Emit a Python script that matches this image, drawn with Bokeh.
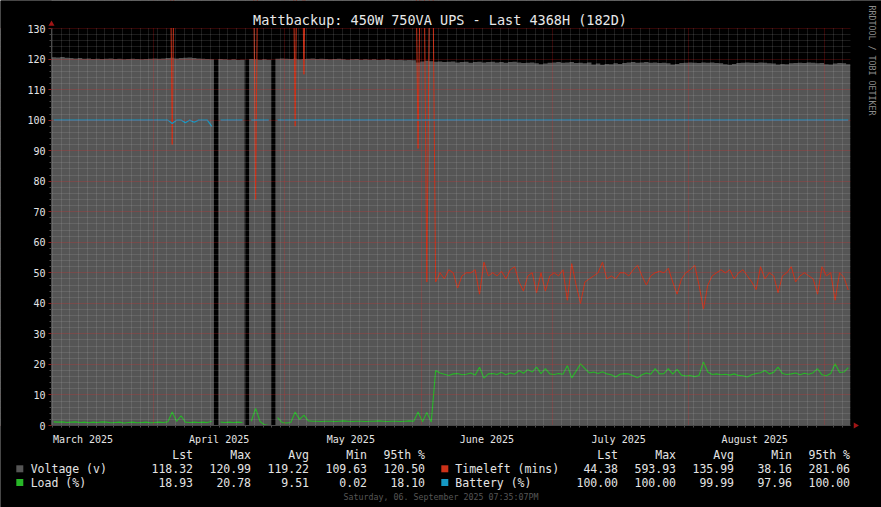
import math
from datetime import datetime
from bokeh.plotting import figure
from bokeh.models import Range1d, FixedTicker, BoxAnnotation
from bokeh.core.properties import value
from bokeh.embed import file_html
from bokeh.resources import INLINE

# ---------------- data ----------------
TITLE = "Mattbackup: 450W 750VA UPS - Last 4368H (182D)"
FOOTER = "Saturday, 06. September 2025 07:35:07PM"
SIDE_TEXT = "RRDTOOL / TOBI OETIKER"
START = datetime(2025, 3, 8, 19, 35, 7)
N_DAYS = 182
Y_MAX = 130

MONTH_LABELS = ["March 2025", "April 2025", "May 2025", "June 2025", "July 2025", "August 2025"]
MONTH_FIRSTS = [datetime(2025, m, 1) for m in (3, 4, 5, 6, 7, 8, 9)]

# one value per day of the window (None = no data)
voltage = [
    120.6, 120.5, 120.7, 120.4, 120.3, 120.2, 120.3, 120.1, 120.2, 120.0,
    120.1, 120.0, 120.1, 120.2, 120.0, 120.1, 119.9, 120.0, 120.1, 120.0,
    119.9, 120.0, 120.1, 120.2, 120.1, 120.2, 120.3, 120.4, 120.2, 120.3,
    120.4, 120.5, 120.3, 120.2, 120.1, 120.0, 119.9, None, 120.0, 119.9,
    119.8, 119.9, 119.7, 119.8, None, 120.0, 119.9, 119.8, 119.9, 119.8,
    None, 120.1, 120.2, 120.1, 120.0, 120.1, 119.9, 120.0, 120.1, 120.2,
    120.0, 120.1, 120.0, 119.9, 120.0, 120.1, 119.9, 119.8, 119.9, 120.0,
    119.8, 119.9, 119.8, 119.9, 119.7, 119.8, 119.9, 119.8, 119.7, 119.8,
    119.6, 119.7, 119.6, 118.9, 119.2, 119.4, 119.3, 119.1, 119.2, 119.0,
    119.1, 119.2, 118.9, 119.0, 119.1, 118.8, 119.0, 119.1, 118.9, 119.0,
    119.1, 118.9, 119.0, 118.8, 119.0, 119.1, 118.9, 118.7, 118.8, 118.9,
    118.6, 118.3, 118.5, 118.8, 118.9, 119.0, 118.8, 118.9, 119.0, 118.7,
    118.8, 118.6, 118.9, 118.2, 118.5, 118.1, 118.4, 118.3, 118.6, 118.4,
    118.7, 118.9, 119.0, 118.8, 118.9, 119.0, 118.8, 118.9, 118.7, 118.8,
    118.6, 118.2, 118.4, 118.7, 118.8, 118.9, 118.8, 118.7, 118.9, 118.8,
    118.9, 118.7, 118.6, 118.3, 118.1, 118.4, 118.7, 118.8, 118.9, 118.8,
    118.7, 118.9, 118.8, 118.6, 118.5, 118.2, 118.4, 118.3, 118.6, 118.7,
    118.8, 118.7, 118.9, 118.8, 118.6, 118.7, 118.3, 118.2, 118.5, 118.7,
    118.6, 118.32,
]

timeleft = [
    593.93, 262, 255, 248, 251, 246, 249, 244, 250, 247,
    245, 252, 248, 243, 246, 250, 244, 241, 247, 243,
    245, 240, 238, 244, 242, 239, 241, 92, 236, 239,
    240, 237, 235, 238, 236, 233, 231, None, 234, 230,
    232, 229, 233, 231, None, 236, 74, 238, 245, 250,
    None, 236, 232, 234, 233, 98, 231, 115, 229, 230,
    228, 231, 227, 229, 226, 228, 225, 227, 224, 226,
    223, 225, 222, 224, 221, 223, 220, 222, 219, 221,
    218, 220, 217, 90.7, 214, 47, 210, 47, 50, 48,
    51, 50, 45, 49, 50, 50, 51, 43, 53.5, 49,
    50, 49, 50.5, 48, 51, 52, 47, 44, 49, 50,
    43.5, 50, 44, 49, 50, 49, 51, 41, 53, 46,
    40, 47, 48, 49, 50, 53.5, 48, 49, 48, 50,
    50, 49, 51, 52.5, 49, 46, 49, 50, 50.5, 50,
    51.5, 47, 43, 48, 50, 51, 52.5, 46, 38.16, 46,
    49, 50, 51, 50, 51, 48, 50, 51, 49, 47,
    44.5, 52, 48, 50, 49, 43.5, 49, 50, 52, 47,
    49, 50, 49, 48, 43, 52, 49, 50, 41, 50,
    48.5, 44.38,
]

load = [
    1.2, 1.1, 1.2, 1.0, 1.1, 1.2, 1.0, 1.1, 0.9, 1.1,
    1.0, 1.2, 1.1, 0.9, 1.0, 1.1, 0.8, 1.0, 1.1, 0.9,
    1.0, 1.1, 0.9, 1.0, 1.1, 1.0, 1.2, 4.4, 1.3, 3.2,
    1.1, 1.0, 1.1, 1.0, 1.1, 1.0, 1.4, None, 1.1, 1.0,
    1.1, 1.0, 1.1, 1.0, None, 1.4, 5.6, 1.3, 0.2, 0.02,
    None, 2.6, 1.0, 0.8, 1.0, 4.4, 2.0, 3.4, 1.5, 1.4,
    1.4, 1.3, 1.4, 1.4, 1.3, 1.4, 1.5, 1.4, 1.3, 1.4,
    1.4, 1.3, 1.4, 1.4, 1.5, 1.4, 1.3, 1.4, 1.4, 1.3,
    1.4, 1.5, 1.4, 4.4, 1.2, 4.3, 1.1, 18.0, 17.2, 16.8,
    16.4, 16.9, 17.0, 16.6, 16.8, 17.2, 16.5, 19.1, 15.5, 16.9,
    17.0, 16.7, 17.4, 16.6, 17.2, 16.8, 18.0, 17.1, 18.3, 17.5,
    19.1, 17.0, 18.6, 16.9, 16.7, 17.0, 16.8, 19.6, 15.6, 17.8,
    20.2, 18.6, 17.2, 17.5, 17.0, 17.6, 16.9, 16.6, 15.9, 16.8,
    17.0, 16.9, 16.3, 15.6, 16.6, 17.2, 16.8, 18.6, 16.9, 17.0,
    18.6, 16.8, 18.4, 16.5, 16.2, 16.4, 16.0, 16.4, 20.78, 17.5,
    16.7, 16.9, 16.6, 16.8, 16.5, 16.9, 16.4, 16.3, 15.9, 16.6,
    17.0, 17.3, 18.0, 16.9, 17.4, 19.1, 17.0, 16.7, 16.9, 17.2,
    16.6, 17.1, 16.8, 17.3, 18.6, 16.6, 16.3, 17.0, 20.2, 17.4,
    17.5, 18.93,
]

battery = [
    100.0, 100.0, 100.0, 100.0, 100.0, 100.0, 100.0, 100.0, 100.0, 100.0,
    100.0, 100.0, 100.0, 100.0, 100.0, 100.0, 100.0, 100.0, 100.0, 100.0,
    100.0, 100.0, 100.0, 100.0, 100.0, 100.0, 100.0, 98.9, 100.0, 100.0,
    99.1, 100.0, 99.3, 100.0, 100.0, 100.0, 97.96, None, 100.0, 100.0,
    100.0, 100.0, 100.0, 100.0, None, 100.0, 100.0, 100.0, 100.0, 100.0,
    None, 100.0, 100.0, 100.0, 100.0, 100.0, 100.0, 100.0, 100.0, 100.0,
    100.0, 100.0, 100.0, 100.0, 100.0, 100.0, 100.0, 100.0, 100.0, 100.0,
    100.0, 100.0, 100.0, 100.0, 100.0, 100.0, 100.0, 100.0, 100.0, 100.0,
    100.0, 100.0, 100.0, 100.0, 100.0, 100.0, 100.0, 100.0, 100.0, 100.0,
    100.0, 100.0, 100.0, 100.0, 100.0, 100.0, 100.0, 100.0, 100.0, 100.0,
    100.0, 100.0, 100.0, 100.0, 100.0, 100.0, 100.0, 100.0, 100.0, 100.0,
    100.0, 100.0, 100.0, 100.0, 100.0, 100.0, 100.0, 100.0, 100.0, 100.0,
    100.0, 100.0, 100.0, 100.0, 100.0, 100.0, 100.0, 100.0, 100.0, 100.0,
    100.0, 100.0, 100.0, 100.0, 100.0, 100.0, 100.0, 100.0, 100.0, 100.0,
    100.0, 100.0, 100.0, 100.0, 100.0, 100.0, 100.0, 100.0, 100.0, 100.0,
    100.0, 100.0, 100.0, 100.0, 100.0, 100.0, 100.0, 100.0, 100.0, 100.0,
    100.0, 100.0, 100.0, 100.0, 100.0, 100.0, 100.0, 100.0, 100.0, 100.0,
    100.0, 100.0, 100.0, 100.0, 100.0, 100.0, 100.0, 100.0, 100.0, 100.0,
    100.0, 100.0,
]

STAT_HEADERS = ["Lst", "Max", "Avg", "Min", "95th %"]
SERIES_LEFT = ["Voltage (v)", "Load (%)"]
SERIES_RIGHT = ["Timeleft (mins)", "Battery (%)"]
STATS = {
    "Voltage (v)": ["118.32", "120.99", "119.22", "109.63", "120.50"],
    "Load (%)": ["18.93", "20.78", "9.51", "0.02", "18.10"],
    "Timeleft (mins)": ["44.38", "593.93", "135.99", "38.16", "281.06"],
    "Battery (%)": ["100.00", "100.00", "99.99", "97.96", "100.00"],
}

for s in (voltage, timeleft, load, battery):
    assert len(s) == N_DAYS, len(s)

# ---------------- style / layout ----------------
FONT = "DejaVu Sans Mono"
TXT = "#e4e4e4"
C_VOLT = "#555555"
C_LOAD = "#27b627"
C_TIME = "#cc3118"
C_BATT = "#1598c3"
C_ARROW = "#a01515"
COLORS = {"Voltage (v)": C_VOLT, "Load (%)": C_LOAD,
          "Timeleft (mins)": C_TIME, "Battery (%)": C_BATT}

W, H = 881, 507
FL, FR, FT, FB = 51, 850, 28, 425          # data area in canvas pixels
KX = N_DAYS / (FR - FL)
KY = Y_MAX / (FB - FT)


def days_from_start(dt):
    return round((dt - START).total_seconds() / 86400.0, 4)


month_starts = [days_from_start(d) for d in MONTH_FIRSTS]
label_pos = [round(m + 15.0, 4) for m in month_starts[:-1]]
first_midnight = days_from_start(datetime(2025, 3, 9))
two_day = [round(first_midnight + 2 * k, 4) for k in range(0, 92)]
two_day = [t for t in two_day if 0 <= t <= N_DAYS and all(abs(t - m) > 0.01 for m in month_starts)]

p = figure(width=W, height=H,
           x_range=Range1d(-FL * KX, (W - FL) * KX),
           y_range=Range1d(-(H - FB) * KY, Y_MAX + FT * KY),
           output_backend="svg", toolbar_location=None, title=None,
           min_border=0, min_border_left=0, min_border_right=0, min_border_top=0, min_border_bottom=0,
           background_fill_color="#000000", border_fill_color="#000000", outline_line_color=None)
# canvas-pixel coordinates for texts and decorations
p.extra_x_ranges = {"px": Range1d(0, W)}
p.extra_y_ranges = {"py": Range1d(H, 0)}

# voltage area, split where data is missing
segments, seg = [], []
for i, v in enumerate(voltage):
    if v is None:
        if seg:
            segments.append(seg)
        seg = []
    else:
        seg.append(i)
if seg:
    segments.append(seg)
for sg in segments:
    xs = [float(i) for i in sg] + [float(sg[-1] + 1)]
    ys = [voltage[i] for i in sg] + [voltage[sg[-1]]]
    p.varea_step(x=xs, y1=[0.0] * len(xs), y2=ys, step_mode="after",
                 fill_color=C_VOLT, level="underlay")

xc = [i + 0.5 for i in range(N_DAYS)]


def nanify(vals):
    return [float("nan") if v is None else v for v in vals]


p.line(xc, nanify(timeleft), line_color=C_TIME, line_width=1)
p.line(xc, nanify(battery), line_color=C_BATT, line_width=1.2)
p.line(xc, nanify(load), line_color=C_LOAD, line_width=1.1)

# axes & grid
y_major = list(range(0, Y_MAX + 1, 10))
y_minor = [v for v in range(0, Y_MAX + 1, 2) if v % 10]
yt = FixedTicker(ticks=y_major, minor_ticks=y_minor)
p.yaxis.ticker = yt
p.ygrid.ticker = yt
p.xaxis.ticker = FixedTicker(ticks=label_pos, minor_ticks=two_day)
p.xgrid.ticker = FixedTicker(ticks=month_starts, minor_ticks=two_day)
p.xaxis.major_label_overrides = {t: lab for t, lab in zip(label_pos, MONTH_LABELS)}
p.xaxis.fixed_location = 0
p.yaxis.fixed_location = 0
p.xaxis.bounds = (0, N_DAYS)
p.yaxis.bounds = (0, Y_MAX)

for ax in (p.xaxis[0], p.yaxis[0]):
    ax.major_label_text_font = FONT
    ax.major_label_text_font_size = "10px"
    ax.major_label_text_color = TXT
    ax.axis_line_color = "#4a4a4a"
    ax.minor_tick_line_color = "#4a4a4a"
    ax.minor_tick_out = 2
    ax.minor_tick_in = 0
    ax.major_tick_in = 0
    ax.level = "overlay"
p.yaxis.major_tick_out = 3
p.yaxis.major_tick_line_color = "#8a2020"
p.yaxis.major_label_standoff = 3
p.xaxis.major_tick_out = 0
p.xaxis.major_label_standoff = 6

for g in (p.xgrid[0], p.ygrid[0]):
    g.grid_line_color = "#ff2020"
    g.grid_line_alpha = 0.4
    g.grid_line_dash = "1 1"
    g.minor_grid_line_color = "#c8c8c8"
    g.minor_grid_line_alpha = 0.28
    g.minor_grid_line_dash = "1 1"
    g.level = "glyph"

# black surround: keeps grid and off-scale values inside the data area
for kw in (dict(right=0), dict(left=N_DAYS), dict(top=-0.5 * KY), dict(bottom=Y_MAX + 0.5 * KY)):
    p.add_layout(BoxAnnotation(fill_color="#000000", fill_alpha=1.0, line_color=None,
                               level="annotation", **kw))

PX = dict(x_range_name="px", y_range_name="py", level="overlay")

# axis arrows
p.scatter(x=[51], y=[23.5], marker="triangle", size=6, fill_color=C_ARROW, line_color=None, **PX)
p.scatter(x=[855], y=[425], marker="triangle", angle=-math.pi / 2, size=6,
          fill_color=C_ARROW, line_color=None, **PX)

# legend / statistics strip
COL_LEFT = [192.5, 250.5, 308.5, 366.5, 424.5]
COL_RIGHT = [617.5, 675.5, 733.5, 791.5, 849.5]
SWATCH_X = {"left": 19.3, "right": 444.3}
NAME_X = {"left": 30.2, "right": 454.8}
HEAD_Y, ROW_Y, FOOT_Y = 454.0, [468.3, 482.0], 496.7

tx, ty, tt = [], [], []
nx, ny, nt, sx, sy, sc = [], [], [], [], [], []
for cols, names, side in ((COL_LEFT, SERIES_LEFT, "left"), (COL_RIGHT, SERIES_RIGHT, "right")):
    for cx, h in zip(cols, STAT_HEADERS):
        tx.append(cx); ty.append(HEAD_Y); tt.append(h)
    for ry, n in zip(ROW_Y, names):
        for cx, val in zip(cols, STATS[n]):
            tx.append(cx); ty.append(ry); tt.append(val)
        nx.append(NAME_X[side]); ny.append(ry); nt.append(n)
        sx.append(SWATCH_X[side]); sy.append(ry); sc.append(COLORS[n])

p.text(x=tx, y=ty, text=tt, text_align="right", text_baseline="middle",
       text_font=value(FONT), text_font_size="11.5px", text_color=TXT, **PX)
p.text(x=nx, y=ny, text=nt, text_align="left", text_baseline="middle",
       text_font=value(FONT), text_font_size="11.5px", text_color=TXT, **PX)
p.rect(x=sx, y=sy, width=7, height=7, fill_color=sc, line_color=None, **PX)

p.text(x=[439.5], y=[19.5], text=[TITLE], text_align="center", text_baseline="middle",
       text_font=value(FONT), text_font_size="13.5px", text_color="#e8e8e8", **PX)
p.text(x=[440.5], y=[FOOT_Y], text=[FOOTER], text_align="center", text_baseline="middle",
       text_font=value(FONT), text_font_size="8.3px", text_color="#565656", **PX)
p.text(x=[871.5], y=[5], text=[SIDE_TEXT], angle=-math.pi / 2, text_align="left", text_baseline="middle",
       text_font=value(FONT), text_font_size="8.3px", text_color="#8c8c8c", **PX)

open("out.html", "w").write(file_html(p, INLINE))
